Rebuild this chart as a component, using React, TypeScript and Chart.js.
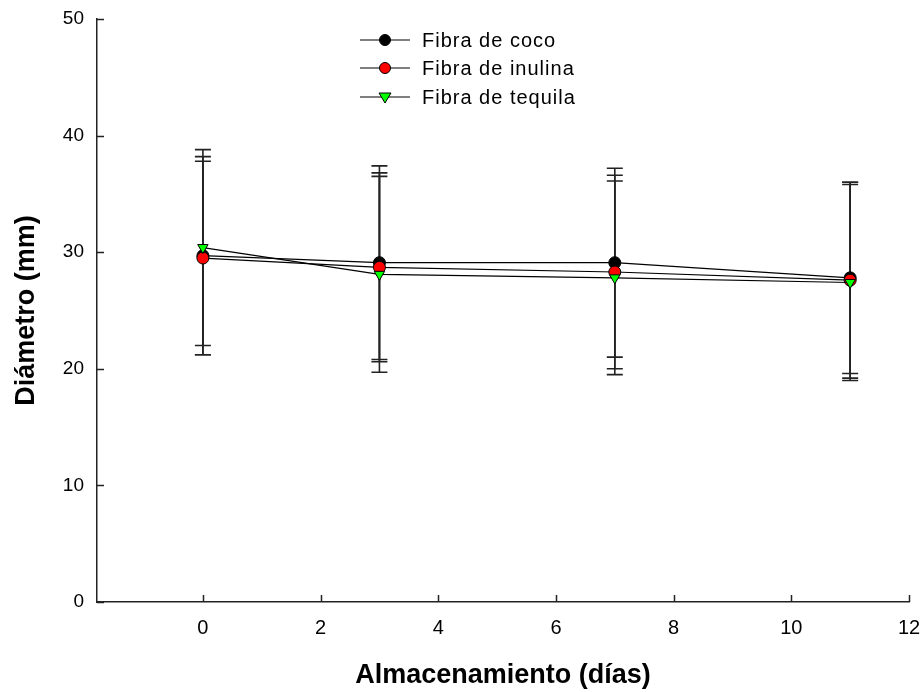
import React, { useEffect, useRef } from "react";
import { Chart, registerables } from "chart.js";

Chart.register(...registerables);

const days = [0, 3, 7, 11];
const coco = [29.7, 29.1, 29.1, 27.8];
const cocoErr = [8.5, 8.3, 8.1, 8.2];
const inulina = [29.5, 28.7, 28.3, 27.6];
const inulinaErr = [8.3, 8.1, 8.3, 8.4];
const tequila = [30.4, 28.1, 27.8, 27.4];
const tequilaErr = [8.4, 8.4, 8.3, 8.4];

const seriesNames = ["Fibra de coco", "Fibra de inulina", "Fibra de tequila"];
const xTitle = "Almacenamiento (días)";
const yTitle = "Diámetro (mm)";

const FONT = "'Liberation Sans', Arial, sans-serif";

const errorBarPlugin = {
  id: "errorBars",
  beforeDatasetsDraw(chart: any) {
    const { ctx, scales } = chart;
    const xs = scales.x;
    const ys = scales.y;
    ctx.save();
    ctx.strokeStyle = "#222";
    ctx.lineWidth = 1.6;
    chart.data.datasets.forEach((ds: any) => {
      const errs: number[] = ds.errors;
      ds.data.forEach((pt: any, i: number) => {
        const px = xs.getPixelForValue(pt.x);
        const top = ys.getPixelForValue(pt.y + errs[i]);
        const bot = ys.getPixelForValue(pt.y - errs[i]);
        ctx.beginPath();
        ctx.moveTo(px, top);
        ctx.lineTo(px, bot);
        ctx.moveTo(px - 8, top);
        ctx.lineTo(px + 8, top);
        ctx.moveTo(px - 8, bot);
        ctx.lineTo(px + 8, bot);
        ctx.stroke();
      });
    });
    ctx.restore();
  },
};

const inwardTicksPlugin = {
  id: "inwardTicks",
  afterDraw(chart: any) {
    const { ctx, scales, chartArea } = chart;
    ctx.save();
    ctx.strokeStyle = "#222";
    ctx.lineWidth = 1.5;
    ctx.beginPath();
    scales.y.ticks.forEach((t: any) => {
      const py = Math.round(scales.y.getPixelForValue(t.value)) + 0.5;
      ctx.moveTo(chartArea.left, py);
      ctx.lineTo(chartArea.left + 7, py);
    });
    scales.x.ticks.forEach((t: any) => {
      const px = Math.round(scales.x.getPixelForValue(t.value)) + 0.5;
      ctx.moveTo(px, chartArea.bottom);
      ctx.lineTo(px, chartArea.bottom - 7);
    });
    ctx.stroke();
    ctx.restore();
  },
};

const legendPlugin = {
  id: "customLegend",
  afterDraw(chart: any) {
    const { ctx } = chart;
    const ys = [40, 68, 97];
    ctx.save();
    chart.data.datasets.forEach((ds: any, i: number) => {
      const y = ys[i];
      ctx.strokeStyle = "#000";
      ctx.lineWidth = 1.2;
      ctx.beginPath();
      ctx.moveTo(360, y);
      ctx.lineTo(410, y);
      ctx.stroke();
      ctx.fillStyle = ds.pointBackgroundColor;
      ctx.strokeStyle = "#000";
      ctx.lineWidth = 1;
      ctx.beginPath();
      if (ds.pointStyle === "triangle") {
        ctx.moveTo(385 - 6, y - 4);
        ctx.lineTo(385 + 6, y - 4);
        ctx.lineTo(385, y + 6);
        ctx.closePath();
      } else {
        ctx.arc(385, y, 5.5, 0, Math.PI * 2);
      }
      ctx.fill();
      ctx.stroke();
      ctx.fillStyle = "#000";
      ctx.font = `20px ${FONT}`;
      (ctx as any).letterSpacing = "1px";
      ctx.textBaseline = "middle";
      ctx.textAlign = "left";
      ctx.fillText(ds.label, 422, y + 1);
      (ctx as any).letterSpacing = "0px";
    });
    ctx.restore();
  },
};

function toPoints(vals: number[]) {
  return days.map((d, i) => ({ x: d, y: vals[i] }));
}

function zeroPadding(scale: any) {
  scale.paddingLeft = 0;
  scale.paddingRight = 0;
  scale.paddingTop = 0;
  scale.paddingBottom = 0;
}

export default function App() {
  const ref = useRef<HTMLCanvasElement>(null);
  useEffect(() => {
    if (!ref.current) return;
    const common = {
      borderColor: "#000",
      borderWidth: 1.2,
      pointBorderColor: "#000",
      pointBorderWidth: 1,
      pointRadius: 6,
      tension: 0,
      fill: false,
    };
    const chart = new Chart(ref.current, {
      type: "line",
      data: {
        datasets: [
          {
            ...common,
            label: seriesNames[0],
            data: toPoints(coco),
            errors: cocoErr,
            pointStyle: "circle",
            pointBackgroundColor: "#000",
            order: 2,
          },
          {
            ...common,
            label: seriesNames[1],
            data: toPoints(inulina),
            errors: inulinaErr,
            pointStyle: "circle",
            pointBackgroundColor: "#ff0000",
            order: 1,
          },
          {
            ...common,
            label: seriesNames[2],
            data: toPoints(tequila),
            errors: tequilaErr,
            pointStyle: "triangle",
            pointRotation: 180,
            pointBackgroundColor: "#00ff00",
            order: 0,
          },
        ] as any,
      },
      options: {
        animation: false,
        responsive: false,
        maintainAspectRatio: false,
        layout: { padding: { top: 19, right: 14, left: 0, bottom: 0 } },
        plugins: {
          legend: { display: false },
          tooltip: { enabled: false },
        },
        scales: {
          x: {
            type: "linear",
            min: -1.8,
            max: 12,
            grid: { display: false, drawTicks: false },
            border: { display: true, color: "#222", width: 1.5 },
            ticks: {
              stepSize: 2,
              color: "#000",
              padding: 14,
              maxRotation: 0,
              font: { family: FONT, size: 20 },
            },
            afterBuildTicks: (scale: any) => {
              scale.ticks = scale.ticks.filter((t: any) => t.value >= 0);
            },
            afterFit: (scale: any) => {
              scale.height = 90;
              zeroPadding(scale);
            },
            title: {
              display: true,
              text: xTitle,
              color: "#000",
              font: { family: FONT, size: 27, weight: "bold" },
              padding: { top: 0, bottom: 0 },
            },
          },
          y: {
            type: "linear",
            min: 0,
            max: 50,
            grid: { display: false, drawTicks: false },
            border: { display: true, color: "#222", width: 1.5 },
            ticks: {
              stepSize: 10,
              color: "#000",
              padding: 13,
              font: { family: FONT, size: 19 },
            },
            afterFit: (scale: any) => {
              scale.width = 97;
              zeroPadding(scale);
            },
            title: {
              display: true,
              text: yTitle,
              color: "#000",
              font: { family: FONT, size: 27, weight: "bold" },
              padding: { top: 10, bottom: 0 },
            },
          },
        },
      },
      plugins: [errorBarPlugin, inwardTicksPlugin, legendPlugin],
    });
    return () => chart.destroy();
  }, []);
  return (
    <div style={{ position: "fixed", left: 0, top: 0, width: 923, height: 692, background: "#fff" }}>
      <canvas ref={ref} width={923} height={692} style={{ width: 923, height: 692 }} />
    </div>
  );
}
